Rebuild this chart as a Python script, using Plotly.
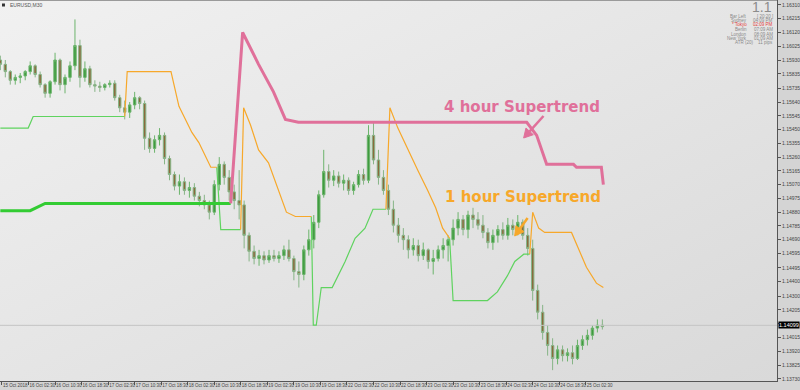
import base64
import plotly.graph_objects as go

# ---------------- data (EURUSD M30, one candle = 1.5 h) ----------------
open_ = [
1.1593,1.1590,1.1585,1.1579,1.1581,1.1582,1.1585,1.1589,1.1583,1.1576,
1.1570,1.1578,1.1593,1.1576,1.1581,1.1589,1.1603,1.1581,1.1587,1.1576,
1.1575,1.1574,1.1576,1.1577,1.1567,1.1560,1.1557,1.1562,1.1567,1.1563,
1.1539,1.1532,1.1538,1.1541,1.1525,1.1514,1.1506,1.1509,1.1503,1.1505,
1.1499,1.1496,1.1493,1.1488,1.1507,1.1521,1.1512,1.1502,1.1496,1.1493,
1.1472,1.1461,1.1456,1.1458,1.1455,1.1458,1.1456,1.1458,1.1462,1.1456,
1.1447,1.1445,1.1462,1.1469,1.1481,1.1500,1.1516,1.1510,1.1513,1.1508,
1.1510,1.1503,1.1507,1.1514,1.1510,1.1541,1.1524,1.1512,1.1503,1.1490,
1.1479,1.1472,1.1469,1.1462,1.1465,1.1458,1.1462,1.1454,1.1456,1.1462,
1.1465,1.1469,1.1477,1.1483,1.1476,1.1486,1.1483,1.1479,1.1474,1.1467,
1.1472,1.1476,1.1472,1.1479,1.1476,1.1481,1.1472,1.1463,1.1434,1.1419,
1.1405,1.1396,1.1387,1.1393,1.1389,1.1391,1.1387,1.1396,1.1400,1.1403,
1.1408,1.1410]
high = [
1.1596,1.1593,1.1586,1.1583,1.1584,1.1586,1.1592,1.1590,1.1585,1.1577,
1.1579,1.1598,1.1594,1.1583,1.1592,1.1621,1.1607,1.1592,1.1589,1.1579,
1.1578,1.1577,1.1579,1.1579,1.1569,1.1565,1.1564,1.1571,1.1568,1.1565,
1.1543,1.1541,1.1546,1.1543,1.1527,1.1516,1.1514,1.1512,1.1509,1.1508,
1.1502,1.1500,1.1496,1.1510,1.1526,1.1523,1.1517,1.1507,1.1517,1.1496,
1.1474,1.1465,1.1462,1.1461,1.1462,1.1462,1.1461,1.1465,1.1469,1.1458,
1.1454,1.1465,1.1476,1.1486,1.1503,1.1531,1.1521,1.1517,1.1516,1.1514,
1.1512,1.1509,1.1517,1.1518,1.1548,1.1550,1.1531,1.1517,1.1507,1.1496,
1.1484,1.1477,1.1472,1.1470,1.1469,1.1467,1.1463,1.1462,1.1465,1.1470,
1.1472,1.1483,1.1488,1.1486,1.1489,1.1491,1.1488,1.1486,1.1477,1.1476,
1.1479,1.1481,1.1484,1.1483,1.1486,1.1483,1.1477,1.1469,1.1438,1.1424,
1.1410,1.1401,1.1396,1.1396,1.1394,1.1396,1.1400,1.1403,1.1407,1.1410,
1.1414,1.1414]
low = [
1.1586,1.1581,1.1576,1.1576,1.1577,1.1579,1.1583,1.1581,1.1574,1.1567,
1.1567,1.1576,1.1572,1.1570,1.1578,1.1586,1.1574,1.1578,1.1574,1.1571,
1.1571,1.1572,1.1574,1.1565,1.1557,1.1552,1.1553,1.1559,1.1559,1.1531,
1.1529,1.1529,1.1534,1.1521,1.1510,1.1503,1.1500,1.1500,1.1498,1.1496,
1.1492,1.1490,1.1483,1.1486,1.1503,1.1507,1.1496,1.1490,1.1483,1.1463,
1.1454,1.1452,1.1451,1.1452,1.1453,1.1454,1.1453,1.1455,1.1454,1.1441,
1.1436,1.1441,1.1458,1.1463,1.1477,1.1498,1.1505,1.1506,1.1505,1.1503,
1.1500,1.1500,1.1505,1.1507,1.1508,1.1521,1.1507,1.1500,1.1486,1.1474,
1.1467,1.1462,1.1456,1.1458,1.1454,1.1455,1.1449,1.1445,1.1454,1.1456,
1.1454,1.1465,1.1472,1.1472,1.1470,1.1477,1.1476,1.1470,1.1463,1.1462,
1.1467,1.1469,1.1469,1.1472,1.1472,1.1469,1.1458,1.1427,1.1414,1.1400,
1.1389,1.1379,1.1383,1.1385,1.1385,1.1383,1.1386,1.1393,1.1396,1.1400,
1.1405,1.1407]
close = [
1.1590,1.1585,1.1579,1.1581,1.1582,1.1585,1.1589,1.1583,1.1576,1.1570,
1.1578,1.1593,1.1576,1.1581,1.1589,1.1603,1.1581,1.1587,1.1576,1.1575,
1.1574,1.1576,1.1577,1.1567,1.1560,1.1557,1.1562,1.1567,1.1563,1.1539,
1.1532,1.1538,1.1541,1.1525,1.1514,1.1506,1.1509,1.1503,1.1505,1.1499,
1.1496,1.1493,1.1488,1.1507,1.1521,1.1512,1.1502,1.1496,1.1493,1.1472,
1.1461,1.1456,1.1458,1.1455,1.1458,1.1456,1.1458,1.1462,1.1456,1.1447,
1.1445,1.1462,1.1469,1.1481,1.1500,1.1516,1.1510,1.1513,1.1508,1.1510,
1.1503,1.1507,1.1514,1.1510,1.1541,1.1524,1.1512,1.1503,1.1490,1.1479,
1.1472,1.1469,1.1462,1.1465,1.1458,1.1462,1.1454,1.1456,1.1462,1.1465,
1.1469,1.1477,1.1483,1.1476,1.1486,1.1483,1.1479,1.1474,1.1467,1.1472,
1.1476,1.1472,1.1479,1.1476,1.1481,1.1472,1.1463,1.1434,1.1419,1.1405,
1.1396,1.1387,1.1393,1.1389,1.1391,1.1387,1.1396,1.1400,1.1403,1.1408,
1.1410,1.1409]

# 4-hour supertrend
st4_up_t = [0, 6.0, 9.0, 46.3]
st4_up_v = [1.1489, 1.1489, 1.1494, 1.1494]
st4_dn_t = [46.3, 48.7, 51.9, 54.9, 57.3, 59.9, 105.8, 107.8, 109.8, 115.2, 115.8, 120.8, 121.2]
st4_dn_v = [1.1494, 1.1612, 1.1590, 1.1571, 1.1552, 1.1550, 1.1550, 1.1541, 1.1521, 1.1521, 1.1519, 1.1519, 1.1507]

# 1-hour supertrend (segments)
st1_up = [
    ([0, 5.6, 6.6, 25.0], [1.1546, 1.1546, 1.1554, 1.1554]),
    ([43.5, 44.3, 48.3], [1.1519, 1.1476, 1.1476]),
    ([62.5, 62.9, 63.5, 64.5, 66.7, 69.3, 71.3, 73.3, 74.9, 77.5],
     [1.1485, 1.1410, 1.1410, 1.1436, 1.1436, 1.1454, 1.1470, 1.1477, 1.1490, 1.1490]),
    ([90.3, 91.0, 97.9, 99.9, 101.9, 103.4, 105.2, 106.4],
     [1.1470, 1.1427, 1.1427, 1.1433, 1.1444, 1.1454, 1.1459, 1.1459]),
]
st1_dn = [
    ([25.0, 25.5, 34.3, 35.9, 38.5, 39.9, 42.3, 43.5],
     [1.1554, 1.1585, 1.1585, 1.1561, 1.1543, 1.1536, 1.1519, 1.1519]),
    ([48.3, 48.9, 50.3, 51.9, 53.9, 55.9, 57.5, 59.3, 62.5],
     [1.1476, 1.1560, 1.1548, 1.1531, 1.1522, 1.1503, 1.1488, 1.1485, 1.1485]),
    ([77.5, 78.3, 79.9, 81.9, 83.9, 85.9, 87.5, 88.9, 90.3],
     [1.1490, 1.1560, 1.1546, 1.1531, 1.1517, 1.1503, 1.1491, 1.1477, 1.1470]),
    ([106.4, 107.0, 108.2, 109.4, 114.8, 117.8, 119.8, 121.2],
     [1.1459, 1.1488, 1.1477, 1.1474, 1.1474, 1.1450, 1.1439, 1.1436]),
]

current_price = 1.14099

y_tick_labels = ["1.16310", "1.16215", "1.16120", "1.16025", "1.15930", "1.15835", "1.15735",
                 "1.15640", "1.15545", "1.15450", "1.15355", "1.15260", "1.15165", "1.15070",
                 "1.14975", "1.14880", "1.14785", "1.14690", "1.14595", "1.14495", "1.14400",
                 "1.14300", "1.14205", "1.14110", "1.14015", "1.13920", "1.13825", "1.13730"]
x_tick_labels = ["15 Oct 2018", "16 Oct 02:30", "16 Oct 10:30", "16 Oct 18:30", "17 Oct 02:30",
                 "17 Oct 10:30", "17 Oct 18:30", "18 Oct 02:30", "18 Oct 10:30", "18 Oct 18:30",
                 "19 Oct 02:30", "19 Oct 10:30", "19 Oct 18:30", "22 Oct 02:30", "22 Oct 10:30",
                 "22 Oct 18:30", "23 Oct 02:30", "23 Oct 10:30", "23 Oct 18:30", "24 Oct 02:30",
                 "24 Oct 10:30", "24 Oct 18:30", "25 Oct 02:30"]

info_labels = ["Bar Left", "Sydney", "* Tokyo", "Berlin", "London", "New York", "ATR (20)"]
info_values = ["[ 20:20 ]", "04:09 PM", "02:09 PM", "07:09 AM", "08:09 AM", "01:09 AM", "11 pips"]

# ---------------- figure ----------------
t = list(range(len(close)))
bars_per_label = 16      # M30 bars between time labels
bars_per_candle = 3      # one candle = 3 M30 bars
x_tick_pos = [(k * bars_per_label + 1) / bars_per_candle for k in range(len(x_tick_labels))]

def joined(segs):
    xs, ys = [], []
    for sx, sy in segs:
        xs += sx + [None]
        ys += sy + [None]
    return xs, ys

fig = go.Figure()

fig.add_trace(go.Scatter(x=[-1, 160], y=[current_price, current_price], mode="lines",
                         line=dict(color="#c4c4c4", width=1), hoverinfo="skip"))

fig.add_trace(go.Candlestick(
    x=t, open=open_, high=high, low=low, close=close,
    increasing=dict(line=dict(color="#6cb46c", width=1), fillcolor="#3f9b3f"),
    decreasing=dict(line=dict(color="#86b486", width=1), fillcolor="#8a6a3c"),
    whiskerwidth=0, hoverinfo="skip"))

ux, uy = joined(st1_up)
fig.add_trace(go.Scatter(x=ux, y=uy, mode="lines", line=dict(color="#5fd35f", width=1.2),
                         hoverinfo="skip"))
dx, dy = joined(st1_dn)
fig.add_trace(go.Scatter(x=dx, y=dy, mode="lines", line=dict(color="#f7a82a", width=1.2),
                         hoverinfo="skip"))
fig.add_trace(go.Scatter(x=st4_up_t, y=st4_up_v, mode="lines",
                         line=dict(color="#33cc33", width=3), hoverinfo="skip"))
fig.add_trace(go.Scatter(x=st4_dn_t, y=st4_dn_v, mode="lines",
                         line=dict(color="#e0709a", width=3), hoverinfo="skip"))

PW, PH = 782.0, 381.0
def px(x): return x / PW
def py(y): return 1 - y / PH

svg = ('<svg xmlns="http://www.w3.org/2000/svg" width="782" height="381">'
       '<defs><linearGradient id="g" x1="0" y1="0" x2="1" y2="1">'
       '<stop offset="0" stop-color="#f1f1f1"/><stop offset="1" stop-color="#d9d9d9"/>'
       '</linearGradient></defs><rect width="782" height="381" fill="url(#g)"/></svg>')
bg = "data:image/svg+xml;base64," + base64.b64encode(svg.encode()).decode()

def arrow_shapes(tail, tip, color, width=2.5, head_len=9, head_half=5):
    (x0, y0), (x1, y1) = tail, tip
    dxp, dyp = x1 - x0, y1 - y0
    n = (dxp ** 2 + dyp ** 2) ** 0.5
    ux_, uy_ = dxp / n, dyp / n
    bx, by = x1 - head_len * ux_, y1 - head_len * uy_
    cx1, cy1 = bx + head_half * (-uy_), by + head_half * ux_
    cx2, cy2 = bx - head_half * (-uy_), by - head_half * ux_
    line = dict(type="line", xref="paper", yref="paper", x0=px(x0), y0=py(y0), x1=px(bx), y1=py(by),
                line=dict(color=color, width=width))
    head = dict(type="path", xref="paper", yref="paper",
                path=f"M {px(x1)} {py(y1)} L {px(cx1)} {py(cy1)} L {px(cx2)} {py(cy2)} Z",
                fillcolor=color, line=dict(color=color, width=1))
    return [line, head]

ann = []
ann.append(dict(text="<b>4 hour Supertrend</b>", x=px(525), y=py(107), xref="paper", yref="paper",
                showarrow=False, font=dict(family="DejaVu Sans", size=15, color="#e0709a"),
                xanchor="center", yanchor="middle"))
ann.append(dict(text="<b>1 hour Supertrend</b>", x=px(526), y=py(197), xref="paper", yref="paper",
                showarrow=False, font=dict(family="DejaVu Sans", size=15, color="#f7a82a"),
                xanchor="center", yanchor="middle"))
# chart title
ann.append(dict(text="EURUSD,M30", x=px(8), y=py(5), xref="paper", yref="paper", showarrow=False,
                font=dict(family="Liberation Sans", size=5, color="#555"), xanchor="left", yanchor="middle"))
# info panel
ann.append(dict(text="1.1", x=px(779), y=py(7), xref="paper", yref="paper", showarrow=False,
                font=dict(family="Liberation Sans", size=14, color="#8c8c8c"), xanchor="right", yanchor="middle"))
rows_y = [16, 20.5, 25, 29.5, 34, 38.5, 43]
for lab, val, yy in zip(info_labels, info_values, rows_y):
    col = "#e23b3b" if "Tokyo" in lab else "#8a8a8a"
    ann.append(dict(text=lab, x=px(754 if lab != "ATR (20)" else 760), y=py(yy), xref="paper", yref="paper",
                    showarrow=False, font=dict(family="Liberation Sans", size=4.5, color=col),
                    xanchor="right", yanchor="middle"))
    ann.append(dict(text=val, x=px(780), y=py(yy), xref="paper", yref="paper", showarrow=False,
                    font=dict(family="Liberation Sans", size=4.5, color=col),
                    xanchor="right", yanchor="middle"))
# current price box
ann.append(dict(text=f"{current_price:.5f}", x=1.0, y=current_price, xref="paper", yref="y",
                showarrow=False, bgcolor="#000000", font=dict(family="Liberation Sans", size=5.5, color="#ffffff"),
                xanchor="left", yanchor="middle", borderpad=0, xshift=1))

shapes = [dict(type="line", xref="paper", yref="paper", x0=0, x1=1, y0=1, y1=1,
               line=dict(color="#9a9a9a", width=2)),
          dict(type="rect", xref="paper", yref="paper", x0=px(2), x1=px(5), y0=py(3.5), y1=py(6.5),
               line=dict(width=0), fillcolor="#333")]
shapes += arrow_shapes((547, 116), (527, 138), "#e0709a")
shapes += arrow_shapes((531, 218), (518, 236), "#f7a82a")

fig.update_layout(
    width=800, height=390, margin=dict(l=0, r=18, t=0, b=9),
    paper_bgcolor="#d4d4d4", plot_bgcolor="rgba(0,0,0,0)",
    showlegend=False, annotations=ann, shapes=shapes,
    images=[dict(source=bg, xref="paper", yref="paper", x=0, y=1, sizex=1, sizey=1,
                 sizing="stretch", layer="below", xanchor="left", yanchor="top")],
    xaxis=dict(range=[-0.066, 156.1], showgrid=False, zeroline=False, showline=True,
               linecolor="#555", linewidth=1, ticks="outside", ticklen=3, tickcolor="#555",
               tickvals=x_tick_pos, ticktext=x_tick_labels, ticklabelposition="outside right",
               tickangle=0, tickfont=dict(family="Liberation Sans", size=4.5, color="#444"),
               rangeslider=dict(visible=False), fixedrange=True),
    yaxis=dict(range=[1.13715, 1.16344], side="right", showgrid=False, zeroline=False,
               showline=True, linecolor="#555", linewidth=1, ticks="outside", ticklen=3,
               tickcolor="#555", tickvals=[float(v) for v in y_tick_labels], ticktext=y_tick_labels,
               tickfont=dict(family="Liberation Sans", size=5, color="#444"), fixedrange=True),
)

fig.write_html("out.html")
